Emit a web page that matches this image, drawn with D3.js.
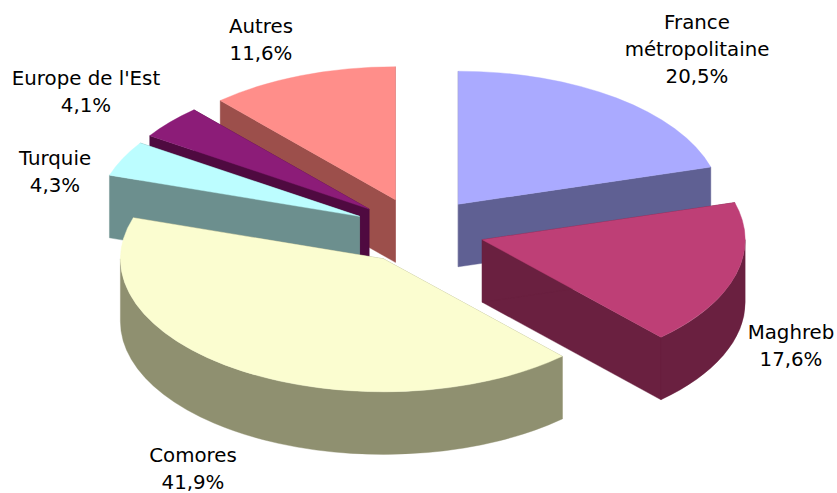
<!DOCTYPE html>
<html><head><meta charset="utf-8">
<script src="https://cdn.jsdelivr.net/npm/d3@7/dist/d3.min.js"></script>
<style>html,body{margin:0;padding:0;background:#fff}svg{display:block}</style>
</head><body><svg id="c" width="837" height="493"></svg>
<script>
const categories = ["France métropolitaine","Maghreb","Comores","Turquie","Europe de l'Est","Autres"];
const values = [20.5,17.6,41.9,4.3,4.1,11.6];
const valueLabels = ["20,5%","17,6%","41,9%","4,3%","4,1%","11,6%"];
const topColors = ["#aaaaff","#be3f76","#fbfdd0","#bcfdff","#8c1c78","#ff8e8a"];
const sideColors = ["#5f6093","#6a2040","#8f9070","#6c8f8e","#4f0a40","#9c4f4b"];
const labelLines = [["France","métropolitaine","20,5%"],["Maghreb","17,6%"],["Comores","41,9%"],["Turquie","4,3%"],["Europe de l'Est","4,1%"],["Autres","11,6%"]];
const labelAnchors = [[697,29],[791,339],[193,462],[55,165],[86,85],[261,33]];
const paintOrder = [0,5,4,3,1,2];

const W=837,H=493;
const x=d3.scaleLinear().domain([-1,1]).range([155.8,681.8]);
const y=d3.scaleLinear().domain([1,-1]).range([97.8,363.8]);
const depth=62.6, explode=0.25;
const svg=d3.select("#c");
const pie=d3.pie().sort(null).value(d=>d);
const arcs=pie(values);
const rx=(x(1)-x(-1))/2, ry=(y(-1)-y(1))/2;

function pt(c,a,dy=0){return [x(c[0]+Math.sin(a)),y(c[1]+Math.cos(a))+dy];}
function centre(d){const m=(d.startAngle+d.endAngle)/2;return [explode*Math.sin(m),explode*Math.cos(m)];}
function apex(c,dy=0){return [x(c[0]),y(c[1])+dy];}
function arcCmd(to,a0,a1){const large=(a1-a0)>Math.PI?1:0;return `A${rx},${ry} 0 ${large} 1 ${to[0]},${to[1]}`;}

function radialWall(c,a){
  const p=apex(c),q=pt(c,a);
  return `M${p}L${q}L${q[0]},${q[1]+depth}L${p[0]},${p[1]+depth}Z`;
}
function outerWall(c,a0,a1){
  const s=Math.max(a0,Math.PI/2), e=Math.min(a1,3*Math.PI/2);
  if(e<=s) return null;
  const p=pt(c,s),q=pt(c,e),q2=pt(c,e,depth),p2=pt(c,s,depth);
  return `M${p}${arcCmd(q,s,e)}L${q2}A${rx},${ry} 0 ${(e-s)>Math.PI?1:0} 0 ${p2}Z`;
}
function topFace(c,a0,a1){
  return `M${apex(c)}L${pt(c,a0)}${arcCmd(pt(c,a1),a0,a1)}Z`;
}

const g=svg.append("g");
paintOrder.forEach(i=>{
  const d=arcs[i],c=centre(d),sl=g.append("g");
  const side=sideColors[i];
  [d.endAngle,d.startAngle].forEach(a=>{
    sl.append("path").attr("d",radialWall(c,a)).attr("fill",side).attr("stroke",side).attr("stroke-width",0.4);
  });
  const o=outerWall(c,d.startAngle,d.endAngle);
  if(o) sl.append("path").attr("d",o).attr("fill",side).attr("stroke",side).attr("stroke-width",0.4);
  sl.append("path").attr("d",topFace(c,d.startAngle,d.endAngle)).attr("fill",topColors[i]).attr("stroke",topColors[i]).attr("stroke-width",0.4);
});

const lh=27;
labelLines.forEach((lines,i)=>{
  const t=svg.append("text").attr("text-anchor","middle")
    .attr("font-family","'DejaVu Sans',Verdana,sans-serif").attr("font-size",19.8).attr("fill","#000");
  lines.forEach((s,k)=>t.append("tspan").attr("x",labelAnchors[i][0]).attr("y",labelAnchors[i][1]+k*lh).text(s));
});
</script></body></html>
